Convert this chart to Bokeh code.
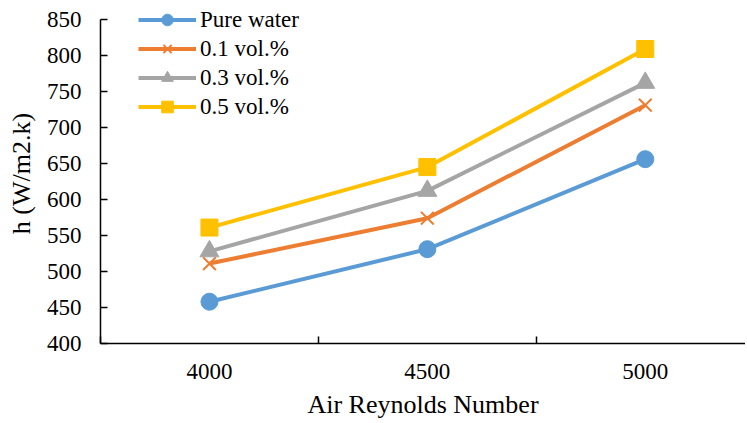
from bokeh.plotting import figure
from bokeh.models import Range1d, LinearAxis, FixedTicker, Legend
from bokeh.embed import file_html
from bokeh.resources import INLINE

categories = ["4000", "4500", "5000"]
pure_water = [458, 531, 656]
vol_01 = [511, 574, 731]
vol_03 = [528, 612, 762]
vol_05 = [561, 645, 809]
y_ticks = [400, 450, 500, 550, 600, 650, 700, 750, 800, 850]

FONT = "Liberation Serif"
FS = "23px"
TITLE_FS = "26px"

xs = [i + 0.5 for i in range(len(categories))]

p = figure(width=745, height=422, output_backend="svg", toolbar_location=None,
           x_range=Range1d(0, 2.96), y_range=Range1d(400, 872.2),
           x_axis_location=None, y_axis_location=None,
           min_border_left=100, min_border_right=0, min_border_top=3, min_border_bottom=79)
p.outline_line_color = None
p.xgrid.visible = False
p.ygrid.visible = False
p.background_fill_color = "white"
p.border_fill_color = "white"

# y axis
yax = LinearAxis(ticker=FixedTicker(ticks=y_ticks, minor_ticks=[]), bounds=(400, 850))
yax.axis_label = "h (W/m2.k)"
yax.axis_label_text_font = FONT
yax.axis_label_text_font_size = TITLE_FS
yax.axis_label_text_font_style = "normal"
yax.axis_label_text_color = "black"
yax.axis_label_standoff = 8
yax.major_label_text_font = FONT
yax.major_label_text_font_size = FS
yax.major_label_text_color = "black"
yax.major_label_standoff = 19
yax.major_tick_in = 7
yax.major_tick_out = 0
yax.major_tick_line_color = "black"
yax.major_tick_line_width = 1.5
yax.axis_line_color = "black"
yax.axis_line_width = 1.5
yax.minor_tick_line_color = None
p.add_layout(yax, "left")

# x axis: boundary ticks between categories
boundaries = list(range(len(categories) + 1))
xtick_ax = LinearAxis(ticker=FixedTicker(ticks=boundaries, minor_ticks=[]))
xtick_ax.major_label_overrides = {b: "" for b in boundaries}
xtick_ax.major_label_text_font_size = "1px"
xtick_ax.major_label_standoff = 0
xtick_ax.major_tick_in = 7
xtick_ax.major_tick_out = 0
xtick_ax.major_tick_line_color = "black"
xtick_ax.major_tick_line_width = 1.5
xtick_ax.axis_line_color = "black"
xtick_ax.axis_line_width = 1.5
xtick_ax.minor_tick_line_color = None
p.add_layout(xtick_ax, "below")

# x axis: category labels
xlab_ax = LinearAxis(ticker=FixedTicker(ticks=xs, minor_ticks=[]))
xlab_ax.major_label_overrides = {x: c for x, c in zip(xs, categories)}
xlab_ax.major_label_text_font = FONT
xlab_ax.major_label_text_font_size = FS
xlab_ax.major_label_text_color = "black"
xlab_ax.major_label_standoff = 14
xlab_ax.major_tick_line_color = None
xlab_ax.minor_tick_line_color = None
xlab_ax.axis_line_color = None
xlab_ax.axis_label = "Air Reynolds Number"
xlab_ax.axis_label_text_font = FONT
xlab_ax.axis_label_text_font_size = TITLE_FS
xlab_ax.axis_label_text_font_style = "normal"
xlab_ax.axis_label_text_color = "black"
xlab_ax.axis_label_standoff = 8
p.add_layout(xlab_ax, "below")

series = [
    ("Pure water", pure_water, "#5B9BD5", "circle", 17),
    ("0.1 vol.%", vol_01, "#ED7D31", "x", 18),
    ("0.3 vol.%", vol_03, "#A5A5A5", "triangle", 19),
    ("0.5 vol.%", vol_05, "#FFC000", "square", 17),
]

items = []
for name, ys, color, marker, size in series:
    ln = p.line(xs, ys, line_color=color, line_width=4)
    if marker == "x":
        mk = p.scatter(xs, ys, marker=marker, size=size, line_color=color, line_width=2)
    else:
        mk = p.scatter(xs, ys, marker=marker, size=size, fill_color=color, line_color=color)
    items.append((name, [ln, mk]))

legend = Legend(items=items, location=(38, 222))
legend.border_line_color = None
legend.background_fill_alpha = 0
legend.padding = 0
legend.margin = 0
legend.spacing = 0
legend.glyph_width = 58
legend.glyph_height = 29
legend.label_height = 29
legend.label_standoff = 4
legend.label_text_font = FONT
legend.label_text_font_size = FS
legend.label_text_color = "black"
p.add_layout(legend, "center")

open("out.html", "w").write(file_html(p, INLINE))
